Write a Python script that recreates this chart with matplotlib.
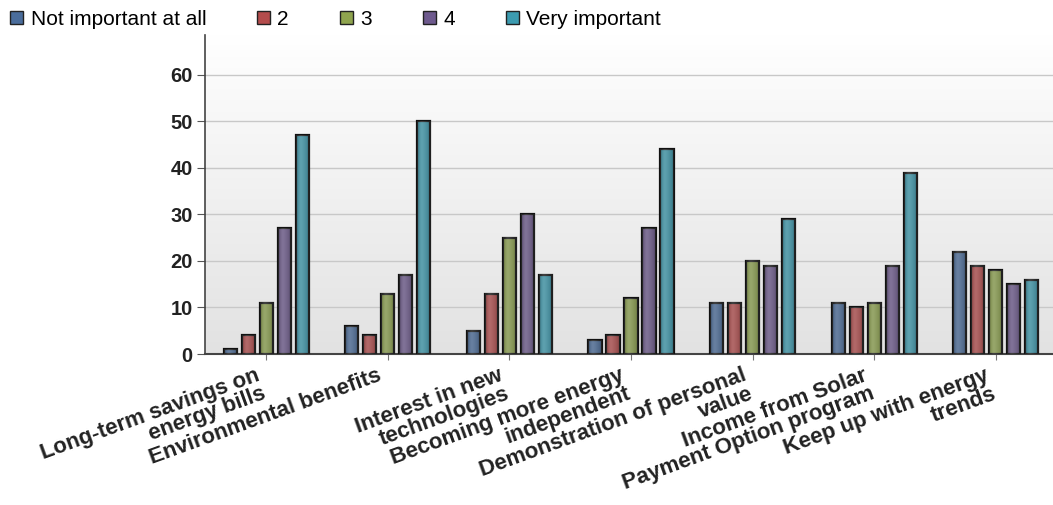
import numpy as np
import matplotlib.pyplot as plt
from matplotlib.colors import LinearSegmentedColormap
from matplotlib.transforms import ScaledTranslation

# data
categories = ["Long-term savings on\nenergy bills", "Environmental benefits",
              "Interest in new\ntechnologies", "Becoming more energy\nindependent",
              "Demonstration of personal\nvalue", "Income from Solar\nPayment Option program",
              "Keep up with energy\ntrends"]
series_names = ["Not important at all", "2", "3", "4", "Very important"]
not_important = [1, 6, 5, 3, 11, 11, 22]
rating_2 = [4, 4, 13, 4, 11, 10, 19]
rating_3 = [11, 13, 25, 12, 20, 11, 18]
rating_4 = [27, 17, 30, 27, 19, 19, 15]
very_important = [47, 50, 17, 44, 29, 39, 16]
y_ticks = [0, 10, 20, 30, 40, 50, 60]

series = [not_important, rating_2, rating_3, rating_4, very_important]
colors = ["#4a6d9c", "#b44c4c", "#8fa44e", "#6e5a8e", "#3c9bb0"]

plt.rcParams['font.family'] = ['Liberation Sans', 'DejaVu Sans']

fig = plt.figure(figsize=(10.53, 5.05), dpi=100)
ax = fig.add_axes([0.195, 0.299, 0.805, 0.632])

# background gradient
grad = np.linspace(0, 1, 256).reshape(-1, 1)
ax.imshow(grad, extent=[-0.5, 6.47, 0, 68.6], aspect='auto', origin='upper',
          cmap=LinearSegmentedColormap.from_list('bg', ['#ffffff', '#e2e2e2']), zorder=0)

x = np.arange(len(categories))
step = 0.148
width = 0.108
for i, (vals, c) in enumerate(zip(series, colors)):
    bars = ax.bar(x + (i - 2) * step, vals, width, color=c, edgecolor='#111111',
                  linewidth=1.6, zorder=3, label=series_names[i])
    # soft horizontal shading on each bar
    shade = np.array([[-0.4, 0.5, 0.2, -0.1, -0.5]])
    for b in bars:
        ax.imshow(shade, extent=[b.get_x(), b.get_x() + b.get_width(), 0, b.get_height()],
                  aspect='auto', cmap='gray', vmin=-1, vmax=1, alpha=0.3, zorder=3.5,
                  interpolation='bicubic')

ax.set_xlim(-0.5, 6.47)
ax.set_ylim(0, 68.6)
ax.set_yticks(y_ticks)
ax.set_yticklabels([str(v) for v in y_ticks], fontsize=14.5, fontweight='bold', color='#222222')
ax.set_xticks(x)
ax.set_xticklabels([])

# category labels: rotated, right aligned, sitting a bit left of each tick
lbl_trans = ax.get_xaxis_transform() + ScaledTranslation(-0.11, -0.11, fig.dpi_scale_trans)
for xi, name in zip(x, categories):
    ax.text(xi, 0, name, transform=lbl_trans, rotation=20, rotation_mode='anchor',
            ha='right', va='top', multialignment='right', linespacing=0.92,
            fontsize=16, fontweight='bold', color='#222222', clip_on=False)

ax.tick_params(axis='x', length=4, color='#777777', pad=6)
ax.tick_params(axis='y', length=6, color='#555555', pad=3)

ax.yaxis.grid(True, color='#c8c8c8', linewidth=1, zorder=1)
ax.set_axisbelow(True)
for s in ['top', 'right']:
    ax.spines[s].set_visible(False)
ax.spines['left'].set_color('#444444')
ax.spines['bottom'].set_color('#444444')
ax.spines['left'].set_linewidth(1.2)
ax.spines['bottom'].set_linewidth(1.5)

leg = fig.legend(loc='upper left', bbox_to_anchor=(-0.008, 1.018), ncol=5, frameon=False,
                 fontsize=15, handlelength=0.62, handleheight=0.62, handletextpad=0.35,
                 columnspacing=2.45)
for h in leg.legend_handles:
    h.set_edgecolor('#222222')
    h.set_linewidth(1)

fig.savefig('out.png', dpi=100)
